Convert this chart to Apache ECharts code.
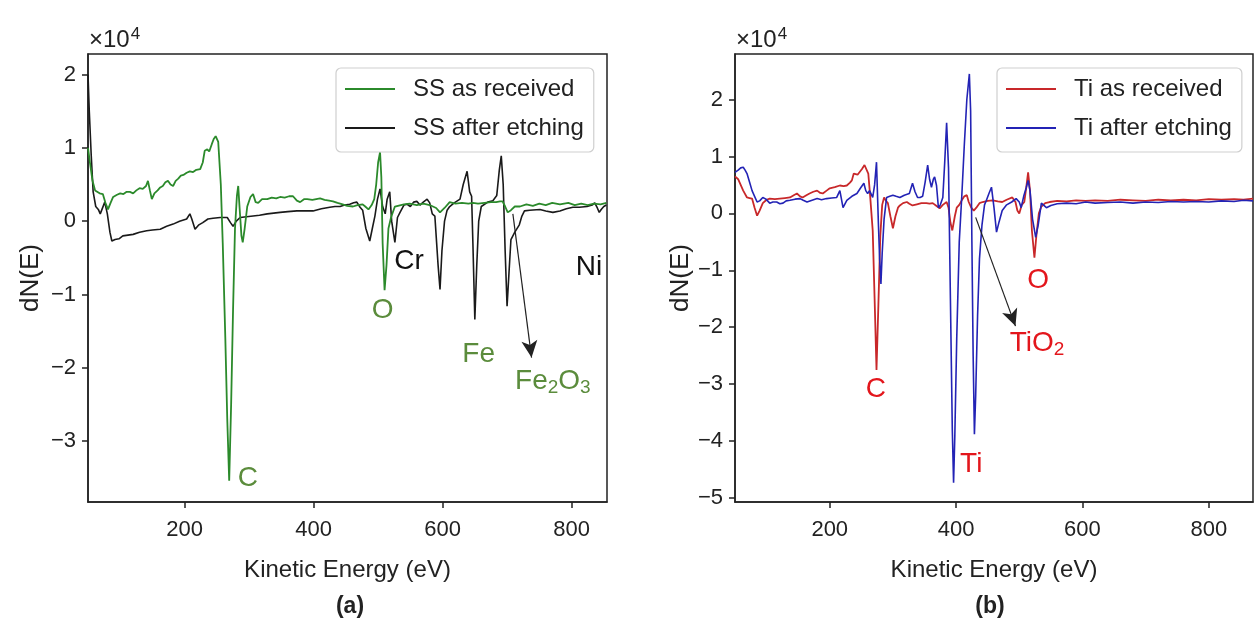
<!DOCTYPE html>
<html>
<head>
<meta charset="utf-8">
<script src="https://cdn.jsdelivr.net/npm/echarts@6/dist/echarts.min.js"></script>
<style>
  html, body { margin: 0; padding: 0; background: #fff; }
  #chart { width: 1255px; height: 628px; }
</style>
</head>
<body>
<div id="chart"></div>
<script>
// Auger spectra, dN(E) in units of 1e4 versus kinetic energy (eV)

const energyTicks = [200, 400, 600, 800];
const ssTicks = [-3, -2, -1, 0, 1, 2];
const tiTicks = [-5, -4, -3, -2, -1, 0, 1, 2];

// (a) stainless steel
const ssAsReceived = [
  [50,1.0],[53,0.8],[57,0.55],[61,0.42],[64,0.4],[68,0.38],[73,0.37],[77,0.25],[81,0.16],[85,0.25],
  [89,0.33],[95,0.36],[100,0.38],[105,0.37],[110,0.4],[115,0.4],[120,0.38],[125,0.42],[130,0.45],
  [135,0.44],[140,0.48],[143,0.55],[146,0.42],[149,0.3],[153,0.38],[158,0.42],[162,0.46],[166,0.48],
  [170,0.53],[174,0.55],[178,0.5],[182,0.48],[186,0.55],[190,0.58],[194,0.62],[198,0.63],[203,0.66],
  [208,0.68],[213,0.67],[218,0.7],[224,0.71],[228,0.8],[231,0.96],[235,0.98],[238,0.95],[242,1.05],
  [245,1.12],[248,1.16],[252,1.08],[256,0.5],[259,-0.3],[263,-1.6],[266,-2.7],[269,-3.54],[272,-2.5],
  [275,-1.2],[278,-0.1],[281,0.35],[283,0.48],[285,0.2],[288,-0.2],[290,-0.29],[293,-0.1],[297,0.2],
  [302,0.33],[306,0.37],[310,0.26],[314,0.25],[320,0.3],[328,0.3],[335,0.32],[342,0.31],[348,0.33],
  [355,0.32],[362,0.34],[368,0.34],[374,0.28],[379,0.26],[385,0.3],[390,0.3],[398,0.29],[404,0.3],
  [410,0.31],[417,0.29],[424,0.28],[430,0.27],[437,0.25],[445,0.23],[452,0.21],[461,0.2],[468,0.22],
  [476,0.23],[480,0.2],[485,0.16],[490,0.22],[494,0.3],[497,0.5],[500,0.8],[503,0.94],[505,0.6],
  [507,-0.3],[510,-0.94],[513,-0.6],[516,-0.1],[520,0.05],[526,0.2],[529,0.22],[540,0.23],[549,0.24],
  [560,0.22],[570,0.24],[580,0.22],[590,0.18],[596,0.12],[603,0.18],[611,0.26],[620,0.24],[630,0.25],
  [640,0.24],[647,0.25],[655,0.24],[665,0.25],[675,0.26],[683,0.26],[689,0.27],[693,0.27],[697,0.2],
  [701,0.12],[706,0.15],[712,0.2],[720,0.2],[730,0.23],[740,0.21],[750,0.24],[760,0.22],[770,0.25],
  [782,0.23],[795,0.25],[805,0.22],[815,0.24],[825,0.22],[835,0.24],[845,0.23],[854,0.25]
];
const ssAfterEtching = [
  [50,2.0],[52,1.5],[55,0.9],[58,0.4],[62,0.2],[66,0.16],[69,0.1],[72,0.12],[76,0.26],[80,0.1],
  [84,-0.15],[87,-0.27],[92,-0.25],[98,-0.24],[104,-0.2],[112,-0.19],[120,-0.18],[130,-0.15],
  [141,-0.13],[150,-0.12],[162,-0.11],[172,-0.07],[182,-0.04],[192,0.0],[203,0.03],[208,0.1],
  [211,0.03],[216,-0.11],[222,-0.05],[228,-0.02],[236,0.03],[244,0.04],[255,0.05],[266,0.05],
  [271,-0.02],[275,-0.07],[280,0.0],[286,0.05],[296,0.06],[306,0.07],[316,0.08],[328,0.1],[338,0.11],
  [348,0.12],[360,0.13],[374,0.14],[386,0.14],[399,0.14],[412,0.17],[425,0.19],[433,0.2],[441,0.2],
  [448,0.22],[456,0.23],[462,0.25],[467,0.26],[472,0.19],[476,0.15],[481,-0.1],[487,-0.27],[491,-0.1],
  [495,0.07],[499,0.3],[503,0.44],[507,0.2],[511,0.1],[514,0.3],[518,0.4],[521,0.0],[526,-0.29],
  [530,0.05],[534,0.12],[540,0.22],[545,0.23],[550,0.2],[555,0.26],[560,0.27],[565,0.22],[570,0.26],
  [576,0.3],[580,0.25],[584,0.1],[588,0.07],[593,-0.6],[596,-0.93],[599,-0.4],[603,0.0],[607,0.15],
  [611,0.2],[618,0.25],[627,0.3],[632,0.5],[638,0.68],[642,0.4],[645,0.34],[647,-0.3],[650,-1.34],
  [653,-0.6],[656,0.0],[660,0.2],[670,0.26],[678,0.28],[684,0.35],[688,0.7],[691,0.89],[694,0.5],
  [697,-0.4],[700,-1.16],[703,-0.7],[706,-0.25],[709,-0.2],[712,-0.15],[715,-0.13],[719,-0.05],
  [723,0.07],[727,0.14],[735,0.15],[751,0.16],[760,0.14],[771,0.12],[782,0.14],[792,0.17],[802,0.19],
  [812,0.19],[824,0.2],[832,0.22],[836,0.25],[840,0.18],[843,0.12],[846,0.16],[850,0.2],[854,0.22]
];

// (b) titanium
const tiAsReceived = [
  [50,0.65],[55,0.6],[59,0.5],[63,0.4],[69,0.28],[73,0.27],[77,0.26],[81,0.1],[85,-0.04],[89,0.05],
  [94,0.18],[100,0.24],[105,0.26],[113,0.25],[121,0.26],[129,0.27],[137,0.28],[143,0.32],[148,0.35],
  [153,0.3],[157,0.28],[163,0.32],[168,0.35],[174,0.38],[180,0.4],[185,0.36],[189,0.35],[195,0.4],
  [200,0.44],[208,0.46],[216,0.49],[222,0.48],[227,0.49],[232,0.54],[235,0.58],[238,0.7],[240,0.72],
  [244,0.68],[247,0.67],[251,0.78],[255,0.85],[258,0.82],[261,0.7],[264,0.3],[268,-0.3],[271,-1.5],
  [274,-2.75],[277,-1.6],[280,-0.4],[283,0.15],[286,0.28],[289,0.22],[292,0.18],[296,-0.05],[300,-0.26],
  [304,-0.05],[308,0.1],[311,0.14],[316,0.18],[322,0.2],[326,0.17],[331,0.14],[338,0.16],[345,0.18],
  [353,0.18],[358,0.17],[363,0.18],[368,0.14],[374,0.09],[379,0.15],[385,0.2],[388,0.1],[391,-0.16],
  [394,-0.3],[398,-0.05],[401,0.1],[405,0.15],[410,0.25],[413,0.3],[417,0.32],[420,0.2],[424,0.1],
  [428,0.05],[432,0.1],[437,0.18],[442,0.2],[450,0.22],[458,0.23],[466,0.21],[473,0.2],[480,0.24],
  [489,0.28],[494,0.2],[497,0.05],[500,0.0],[504,0.15],[508,0.2],[511,0.45],[514,0.72],[517,0.4],
  [520,-0.3],[524,-0.78],[527,-0.4],[531,0.0],[535,0.12],[541,0.18],[548,0.2],[560,0.22],[575,0.21],
  [590,0.23],[605,0.22],[620,0.23],[640,0.22],[660,0.24],[680,0.23],[700,0.22],[720,0.24],[740,0.23],
  [760,0.24],[780,0.23],[800,0.25],[820,0.24],[840,0.25],[855,0.24],[870,0.26]
];
const tiAfterEtching = [
  [50,0.72],[55,0.76],[59,0.8],[63,0.81],[66,0.76],[69,0.7],[73,0.55],[77,0.4],[81,0.3],[85,0.2],
  [89,0.22],[94,0.28],[99,0.25],[105,0.18],[110,0.2],[116,0.2],[121,0.17],[126,0.18],[131,0.22],
  [137,0.23],[145,0.25],[153,0.26],[158,0.23],[164,0.2],[172,0.23],[180,0.26],[187,0.24],[195,0.26],
  [203,0.27],[211,0.28],[216,0.4],[221,0.1],[227,0.23],[235,0.3],[243,0.35],[249,0.45],[254,0.53],
  [257,0.4],[260,0.35],[263,0.4],[266,0.4],[268,0.28],[271,0.5],[274,0.9],[277,-0.18],[279,-0.8],
  [281,-1.24],[283,-0.7],[286,-0.1],[290,0.28],[295,0.3],[300,0.32],[305,0.3],[311,0.28],[318,0.32],
  [326,0.35],[331,0.53],[335,0.38],[339,0.28],[343,0.28],[347,0.3],[351,0.55],[355,0.85],[358,0.6],
  [361,0.46],[364,0.6],[366,0.64],[369,0.49],[372,0.1],[375,0.15],[379,0.28],[382,0.9],[385,1.59],
  [388,0.8],[391,-1.5],[394,-3.8],[396,-4.73],[398,-3.9],[401,-2.2],[405,-0.5],[409,0.3],[413,1.2],
  [417,2.0],[421,2.45],[423,1.8],[425,-0.5],[427,-2.5],[429,-3.88],[431,-3.2],[434,-1.8],[437,-0.8],
  [441,-0.2],[445,0.15],[448,0.23],[452,0.35],[456,0.46],[460,0.1],[464,-0.33],[468,-0.15],[473,0.05],
  [480,0.15],[488,0.2],[495,0.26],[500,0.2],[503,0.1],[507,0.3],[511,0.45],[514,0.58],[517,0.4],
  [521,-0.1],[526,-0.42],[530,-0.2],[535,0.18],[543,0.1],[550,0.14],[560,0.17],[575,0.18],[590,0.17],
  [605,0.2],[620,0.18],[640,0.19],[660,0.2],[680,0.18],[700,0.2],[720,0.19],[740,0.21],[760,0.2],
  [780,0.21],[800,0.2],[820,0.22],[840,0.21],[855,0.23],[870,0.22]
];

// peak labels: [text, energy, dN, colour key]
const ssPeakLabels = [
  ['C', 298, -3.5, 'green'],
  ['O', 507, -1.22, 'green'],
  ['Cr', 548, -0.55, 'black'],
  ['Fe', 656, -1.82, 'green'],
  ['Fe{sub|2}O{sub|3}', 771, -2.19, 'green'],
  ['Ni', 827, -0.63, 'black']
];
const tiPeakLabels = [
  ['C', 273, -3.09, 'red'],
  ['Ti', 424, -4.41, 'red'],
  ['TiO{sub|2}', 528, -2.29, 'red'],
  ['O', 530, -1.18, 'red']
];
// arrows: [fromEnergy, fromDN, toEnergy, toDN]
const ssArrow = [709, 0.1, 738, -1.86];
const tiArrow = [431, -0.07, 494, -1.98];

const FONT = '"Liberation Sans", Arial, Helvetica, sans-serif';
const labelColors = { green: '#5b8c3c', black: '#111111', red: '#e3161c' };

function fmtTick(v) {
  return v < 0 ? '\u2212' + Math.abs(v) : String(v);
}

function peakMarks(list) {
  return list.map(function (p) {
    const c = labelColors[p[3]];
    return {
      coord: [p[1], p[2]],
      symbol: 'circle',
      symbolSize: 1,
      itemStyle: { color: 'rgba(0,0,0,0)' },
      label: {
        show: true,
        position: 'inside',
        formatter: p[0],
        color: c,
        fontSize: 28,
        fontFamily: FONT,
        rich: {
          sub: { fontSize: 19, fontFamily: FONT, color: c, padding: [13, 0, 0, 0] }
        }
      }
    };
  });
}

function arrowLine(a) {
  return {
    silent: true,
    symbol: ['none', 'arrow'],
    symbolSize: [12, 17],
    lineStyle: { color: '#222', width: 1.2, type: 'solid' },
    label: { show: false },
    data: [[{ coord: [a[0], a[1]] }, { coord: [a[2], a[3]] }]]
  };
}

function xAxisFor(gridIndex, max) {
  return {
    type: 'value', gridIndex: gridIndex, min: 50, max: max,
    name: 'Kinetic Energy (eV)', nameLocation: 'middle', nameGap: 56,
    nameTextStyle: { fontSize: 24, color: '#222', fontFamily: FONT },
    axisLine: { show: true, onZero: false, lineStyle: { color: '#222', width: 1.5 } },
    axisTick: { show: true, length: 6, customValues: energyTicks, lineStyle: { color: '#222', width: 1.5 } },
    axisLabel: { customValues: energyTicks, fontSize: 22, color: '#222', margin: 17, fontFamily: FONT },
    splitLine: { show: false }
  };
}

function yAxisFor(gridIndex, min, max, ticks, gap) {
  return {
    type: 'value', gridIndex: gridIndex, min: min, max: max,
    name: 'dN(E)', nameLocation: 'middle', nameGap: gap, nameRotate: 90,
    nameTextStyle: { fontSize: 26, color: '#222', fontFamily: FONT },
    axisLine: { show: true, onZero: false, lineStyle: { color: '#222', width: 1.5 } },
    axisTick: { show: true, length: 6, customValues: ticks, lineStyle: { color: '#222', width: 1.5 } },
    axisLabel: { customValues: ticks, formatter: fmtTick, fontSize: 22, color: '#222', margin: 12, fontFamily: FONT },
    splitLine: { show: false }
  };
}

function legendFor(names, left) {
  return {
    data: names, orient: 'vertical', left: left, top: 68,
    icon: 'rect', itemWidth: 50, itemHeight: 2, itemGap: 13,
    padding: [8, 10, 11, 9],
    borderColor: '#cfcfcf', borderWidth: 1.2, borderRadius: 5,
    backgroundColor: 'rgba(255,255,255,0.85)',
    textStyle: { fontSize: 24, lineHeight: 26, color: '#222', fontFamily: FONT, padding: [0, 0, 0, 13] }
  };
}

function timesTenToFour(left) {
  return {
    type: 'text', left: left, top: 26,
    style: {
      text: '\u00d710{sup|4}', fontSize: 24, fill: '#222', fontFamily: FONT,
      rich: { sup: { fontSize: 17, fill: '#222', fontFamily: FONT, padding: [0, 0, 11, 1] } }
    }
  };
}

const chart = echarts.init(document.getElementById('chart'), null, { renderer: 'canvas' });

chart.setOption({
  animation: false,
  backgroundColor: '#fff',
  grid: [
    { left: 88, top: 54, width: 519, height: 448, show: true, borderColor: '#222', borderWidth: 1.5 },
    { left: 735, top: 54, width: 518, height: 448, show: true, borderColor: '#222', borderWidth: 1.5 }
  ],
  xAxis: [xAxisFor(0, 855), xAxisFor(1, 870)],
  yAxis: [yAxisFor(0, -3.83, 2.28, ssTicks, 44), yAxisFor(1, -5.07, 2.8, tiTicks, 38)],
  legend: [
    legendFor(['SS as received', 'SS after etching'], 336),
    legendFor(['Ti as received', 'Ti after etching'], 997)
  ],
  series: [
    {
      name: 'SS as received', type: 'line', xAxisIndex: 0, yAxisIndex: 0,
      data: ssAsReceived, symbol: 'none', smooth: false,
      lineStyle: { color: '#2b8a2b', width: 1.8 }, itemStyle: { color: '#2b8a2b' },
      markPoint: { silent: true, data: peakMarks(ssPeakLabels) }
    },
    {
      name: 'SS after etching', type: 'line', xAxisIndex: 0, yAxisIndex: 0,
      data: ssAfterEtching, symbol: 'none', smooth: false, z: 1,
      lineStyle: { color: '#1a1a1a', width: 1.6 }, itemStyle: { color: '#1a1a1a' },
      markLine: arrowLine(ssArrow)
    },
    {
      name: 'Ti as received', type: 'line', xAxisIndex: 1, yAxisIndex: 1,
      data: tiAsReceived, symbol: 'none', smooth: false,
      lineStyle: { color: '#c8282a', width: 1.8 }, itemStyle: { color: '#c8282a' },
      markPoint: { silent: true, data: peakMarks(tiPeakLabels) }
    },
    {
      name: 'Ti after etching', type: 'line', xAxisIndex: 1, yAxisIndex: 1,
      data: tiAfterEtching, symbol: 'none', smooth: false,
      lineStyle: { color: '#2323b5', width: 1.6 }, itemStyle: { color: '#2323b5' },
      markLine: arrowLine(tiArrow)
    }
  ],
  graphic: [
    timesTenToFour(89),
    timesTenToFour(736),
    {
      type: 'text', x: 350, y: 607,
      style: { text: '(a)', fontSize: 23, fontWeight: 'bold', fill: '#222', fontFamily: FONT, align: 'center', verticalAlign: 'middle' }
    },
    {
      type: 'text', x: 990, y: 607,
      style: { text: '(b)', fontSize: 23, fontWeight: 'bold', fill: '#222', fontFamily: FONT, align: 'center', verticalAlign: 'middle' }
    }
  ]
});
</script>
</body>
</html>
